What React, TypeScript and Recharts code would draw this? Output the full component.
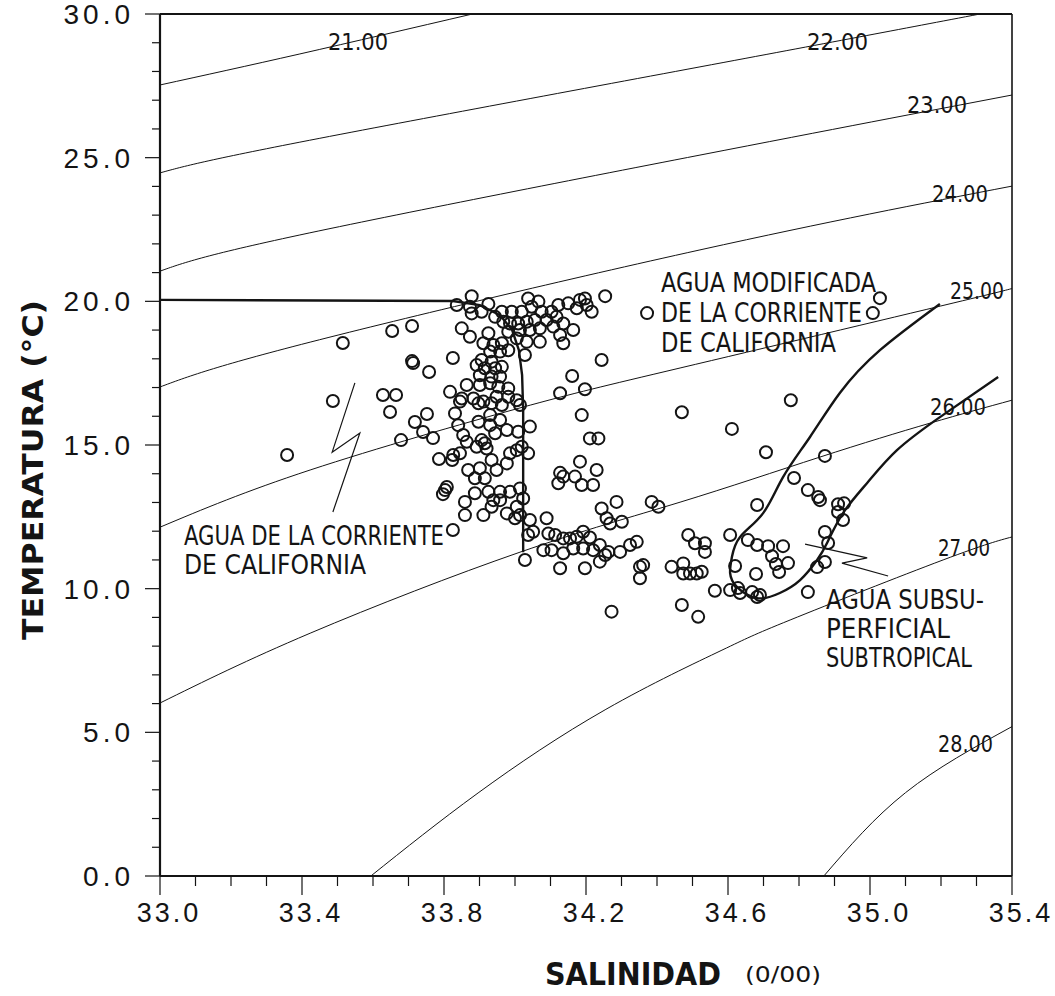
import React from "react";
import {
  ComposedChart,
  XAxis,
  YAxis,
  Scatter,
  Line,
  ReferenceLine,
  Customized,
} from "recharts";

// axis ticks
const SAL_TICKS = [
  33.0, 33.1, 33.2, 33.3, 33.4, 33.5, 33.6, 33.7, 33.8, 33.9, 34.0, 34.1, 34.2,
  34.3, 34.4, 34.5, 34.6, 34.7, 34.8, 34.9, 35.0, 35.1, 35.2, 35.3, 35.4,
];
const TEMP_TICKS = [
  0, 1, 2, 3, 4, 5, 6, 7, 8, 9, 10, 11, 12, 13, 14, 15, 16, 17, 18, 19, 20, 21,
  22, 23, 24, 25, 26, 27, 28, 29, 30,
];

// observations [salinity, temperature]
const OBS_LEFT = [
  [33.358, 14.65], [33.487, 16.53], [33.515, 18.55], [33.654, 18.97], [33.71, 19.14],
  [33.71, 17.92], [33.713, 17.85], [33.628, 16.74], [33.665, 16.74], [33.648, 16.15],
  [33.679, 15.17], [33.758, 17.54], [33.825, 18.03], [33.752, 16.08], [33.718, 15.8],
  [33.741, 15.45], [33.769, 15.24], [33.786, 14.51], [33.823, 14.48], [33.808, 13.54],
  [33.803, 13.43], [33.797, 13.29], [33.825, 12.04],
];

const OBS_TOP = [
  [33.878, 20.18], [33.836, 19.87], [33.873, 19.81], [33.925, 19.91], [33.878, 19.58],
  [33.906, 19.64], [33.944, 19.46], [33.963, 19.64], [33.991, 19.64], [34.019, 19.64],
  [34.037, 20.1], [34.066, 19.99], [34.047, 19.81], [34.075, 19.64], [34.103, 19.64],
  [34.122, 19.87], [34.15, 19.93], [34.183, 20.05], [34.197, 20.1], [34.174, 19.76],
  [34.216, 19.64], [34.202, 19.87], [34.254, 20.18], [33.967, 19.29], [33.986, 19.23],
  [34.009, 19.23], [34.033, 19.29], [34.056, 19.35], [34.089, 19.35], [34.117, 19.46],
  [34.136, 19.23], [33.981, 18.94], [34.014, 19.0], [34.042, 19.0], [34.07, 19.06],
  [34.108, 19.12], [34.127, 18.83], [34.164, 19.0], [34.136, 18.54], [34.07, 18.59],
  [34.033, 18.59], [34.005, 18.71], [33.85, 19.06], [33.873, 18.77], [33.925, 18.89],
  [34.372, 19.59],
];

const OBS_COLUMN = [
  [34.244, 17.96], [33.911, 18.54], [33.939, 18.48], [33.963, 18.54], [33.981, 18.3],
  [33.93, 18.25], [33.958, 18.25], [34.028, 18.13], [33.906, 17.96], [33.934, 17.9],
  [33.892, 17.78], [33.915, 17.67], [33.944, 17.67], [33.963, 17.72], [33.901, 17.43],
  [33.934, 17.38], [33.958, 17.38], [33.864, 17.09], [33.901, 17.09], [33.93, 17.15],
  [33.953, 17.03], [33.981, 16.97], [33.817, 16.85], [33.85, 16.62], [33.883, 16.62],
  [33.911, 16.51], [33.948, 16.68], [33.981, 16.68], [34.005, 16.56], [34.014, 16.39],
  [34.161, 17.4], [34.197, 16.94], [34.127, 16.8], [33.845, 16.51], [33.897, 16.45],
  [33.934, 16.45], [33.963, 16.39], [33.831, 16.1], [33.93, 16.04], [33.958, 15.87],
  [33.84, 15.69], [33.897, 15.81], [33.93, 15.69], [33.944, 15.41], [33.977, 15.52],
  [34.009, 15.46], [34.042, 15.64], [33.854, 15.35], [33.864, 15.11], [33.906, 15.17],
  [33.915, 15.06], [33.92, 14.88], [33.892, 14.94], [33.845, 14.71], [33.826, 14.65],
  [33.986, 14.71], [34.005, 14.82], [34.019, 14.94], [34.037, 14.71], [33.934, 14.48],
  [33.977, 14.36], [33.948, 14.13], [33.868, 14.13], [33.901, 14.19], [33.887, 13.84],
  [33.915, 13.84], [33.859, 13.02], [33.887, 13.32], [33.925, 13.37], [33.958, 13.37],
  [33.986, 13.37], [34.014, 13.49], [34.023, 13.14], [33.859, 12.56], [33.911, 12.56],
  [33.934, 12.85], [33.939, 13.08], [33.958, 13.08], [33.977, 12.62], [34.005, 12.85],
  [34.0, 12.45], [34.014, 12.56], [34.042, 12.39], [34.051, 11.98], [34.037, 11.87],
  [34.028, 11.0], [34.089, 12.45], [34.094, 11.92], [34.08, 11.34],
];

const OBS_MID = [
  [34.244, 12.79], [34.286, 13.02], [34.404, 12.85], [34.385, 13.02], [34.258, 12.45],
  [34.268, 12.27], [34.301, 12.33], [34.113, 11.87], [34.136, 11.75], [34.155, 11.75],
  [34.174, 11.81], [34.192, 11.98], [34.211, 11.78], [34.103, 11.34], [34.136, 11.23],
  [34.164, 11.4], [34.192, 11.4], [34.22, 11.34], [34.239, 11.52], [34.263, 11.28],
  [34.239, 10.94], [34.254, 11.17], [34.296, 11.28], [34.324, 11.52], [34.343, 11.63],
  [34.127, 10.71], [34.197, 10.71], [34.352, 10.76], [34.361, 10.82], [34.352, 10.36],
  [34.272, 9.2], [34.488, 11.87], [34.507, 11.58], [34.535, 11.58], [34.535, 11.28],
  [34.606, 11.87], [34.441, 10.76], [34.474, 10.88], [34.474, 10.53], [34.493, 10.53],
  [34.512, 10.53], [34.526, 10.59], [34.563, 9.93], [34.47, 9.43], [34.516, 9.02],
  [34.188, 16.04], [34.47, 16.14], [34.211, 15.23], [34.235, 15.23], [34.183, 14.42],
  [34.23, 14.13], [34.127, 14.03], [34.136, 13.9], [34.169, 13.9], [34.122, 13.67],
  [34.188, 13.61], [34.22, 13.61],
];

const OBS_SUBTROP = [
  [35.028, 20.11], [35.008, 19.59], [34.777, 16.56], [34.611, 15.56], [34.707, 14.75],
  [34.873, 14.62], [34.786, 13.85], [34.825, 13.43], [34.854, 13.19], [34.859, 13.08],
  [34.91, 12.94], [34.927, 12.97], [34.91, 12.67], [34.924, 12.39], [34.682, 12.91],
  [34.656, 11.69], [34.682, 11.52], [34.713, 11.48], [34.755, 11.48], [34.724, 11.13],
  [34.735, 10.86], [34.744, 10.58], [34.769, 10.89], [34.873, 11.97], [34.882, 11.59],
  [34.873, 10.93], [34.851, 10.75], [34.62, 10.79], [34.679, 10.51], [34.606, 9.95],
  [34.628, 10.02], [34.634, 9.85], [34.668, 9.88], [34.682, 9.71], [34.69, 9.78],
  [34.825, 9.88],
];

// sigma-t isolines [S, T]
const SIGMA_21 = [[33.0, 27.53], [33.394, 28.61], [33.88, 30.0]];
const SIGMA_22 = [[33.0, 24.47], [33.394, 25.54], [34.521, 28.16], [35.31, 30.0]];
const SIGMA_23 = [[33.0, 21.05], [33.394, 22.31], [34.521, 25.09], [35.4, 27.18]];
const SIGMA_24 = [[33.0, 17.02], [33.423, 18.58], [34.521, 21.79], [35.4, 24.01]];
const SIGMA_25 = [[33.0, 12.14], [33.423, 14.13], [34.014, 16.29], [34.465, 17.68], [35.234, 19.94], [35.4, 20.46]];
const SIGMA_26 = [[33.0, 6.02], [33.423, 8.45], [34.014, 11.27], [34.465, 13.01], [34.859, 14.58], [35.169, 15.76], [35.4, 16.56]];
const SIGMA_27 = [[33.594, 0.0], [33.896, 2.89], [34.256, 5.8], [34.583, 7.86], [34.775, 8.91], [35.206, 11.0], [35.4, 11.8]];
const SIGMA_28 = [[34.87, 0.0], [35.1, 2.9], [35.4, 5.2]];
const ISOLINES = [SIGMA_21, SIGMA_22, SIGMA_23, SIGMA_24, SIGMA_25, SIGMA_26, SIGMA_27, SIGMA_28];

// water mass boundaries
const CALIFORNIA_LIMIT = [
  [33.0, 20.05], [33.825, 20.01], [33.901, 19.87], [33.958, 19.52], [33.992, 19.0],
  [34.011, 18.3], [34.02, 17.43], [34.023, 16.22], [34.023, 11.27],
];
const SUBTROPICAL_LIMIT = [
  [35.197, 19.91], [35.028, 18.3], [34.915, 16.81], [34.831, 15.28], [34.755, 13.88],
  [34.699, 12.63], [34.634, 11.8], [34.611, 11.1], [34.606, 10.54], [34.625, 10.06],
  [34.682, 9.67], [34.746, 9.85], [34.803, 10.3], [34.851, 11.0], [34.879, 11.59],
  [34.924, 12.63], [34.992, 13.68], [35.076, 14.82], [35.197, 15.97], [35.361, 17.37],
];

// zig-zag pointers from the labels
const POINTER_CC = [[33.549, 17.16], [33.485, 14.75], [33.563, 15.42], [33.487, 12.67]];
const POINTER_SS = [[34.817, 11.55], [34.992, 11.07], [34.921, 10.89], [35.051, 10.44]];

const ISO_LABELS = ["21.00", "22.00", "23.00", "24.00", "25.00", "26.00", "27.00", "28.00"];

const TICK_FONT = "'Liberation Sans', Arial, sans-serif";
const NOTE_FONT = "'DejaVu Sans Condensed', 'DejaVu Sans', sans-serif";
const INK = "#141414";

const toRows = (pts: number[][]) => pts.map(([s, t]) => ({ s, t }));
const OBS_ROWS = toRows([...OBS_LEFT, ...OBS_TOP, ...OBS_COLUMN, ...OBS_MID, ...OBS_SUBTROP]);

const SalTick = ({ x, y, payload }: any) => {
  const v = payload.value;
  const major = Math.round((v - 33) * 10) % 4 === 0;
  return (
    <g>
      <line x1={x} y1={y} x2={x} y2={y + (major ? 19 : 10)} stroke={INK} strokeWidth={1.2} />
      {major && (
        <text x={x + 9} y={y + 46} textAnchor="middle" fontSize={27} letterSpacing={3} fontFamily={TICK_FONT} fill={INK}>
          {v.toFixed(1)}
        </text>
      )}
    </g>
  );
};

const TempTick = ({ x, y, payload }: any) => {
  const v = payload.value;
  const major = v % 5 === 0;
  return (
    <g>
      <line x1={x - (major ? 15 : 8)} y1={y} x2={x} y2={y} stroke={INK} strokeWidth={1.2} />
      {major && (
        <text x={x - 26} y={y + 10} textAnchor="end" fontSize={28} letterSpacing={4} fontFamily={TICK_FONT} fill={INK}>
          {v.toFixed(1)}
        </text>
      )}
    </g>
  );
};

// label placements in pixels (x start, baseline, width)
const ISO_LABEL_POS = [
  [328, 50, 60], [807, 50, 61], [907, 113, 60], [932, 202, 56],
  [950, 299, 54], [930, 415, 56], [938, 556, 52], [938, 752, 55],
];
const NOTES = [
  { text: "AGUA MODIFICADA", x: 661, y: 292, w: 215 },
  { text: "DE LA CORRIENTE", x: 661, y: 322, w: 201 },
  { text: "DE CALIFORNIA", x: 661, y: 352, w: 175 },
  { text: "AGUA DE LA CORRIENTE", x: 184, y: 545, w: 260 },
  { text: "DE CALIFORNIA", x: 184, y: 574, w: 182 },
  { text: "AGUA SUBSU-", x: 826, y: 609, w: 158 },
  { text: "PERFICIAL", x: 826, y: 638, w: 124 },
  { text: "SUBTROPICAL", x: 826, y: 667, w: 146 },
];

const Annotations = () => (
  <g>
    {ISO_LABELS.map((lab, i) => {
      const [x, y, w] = ISO_LABEL_POS[i];
      return (
        <text key={lab} x={x} y={y} fontSize={23} fontFamily={NOTE_FONT} fill={INK}
          textLength={w} lengthAdjust="spacingAndGlyphs"
          stroke="#fff" strokeWidth={7} paintOrder="stroke">
          {lab}
        </text>
      );
    })}
    {NOTES.map((n) => (
      <text key={n.text + n.y} x={n.x} y={n.y} fontSize={27} fontFamily={NOTE_FONT} fill={INK}
        textLength={n.w} lengthAdjust="spacingAndGlyphs">
        {n.text}
      </text>
    ))}
    <text x={33} y={470} transform="rotate(-90 33 470)" textAnchor="middle" dominantBaseline="central"
      fontSize={28} fontWeight="bold" fontFamily={NOTE_FONT} fill={INK}
      textLength={340} lengthAdjust="spacingAndGlyphs">
      TEMPERATURA (°C)
    </text>
    <text x={545} y={985} fontSize={32} fontWeight="bold" fontFamily={NOTE_FONT} fill={INK}
      textLength={176} lengthAdjust="spacingAndGlyphs">
      SALINIDAD
    </text>
    <text x={745} y={982} fontSize={21} fontFamily={NOTE_FONT} fill={INK}
      textLength={76} lengthAdjust="spacingAndGlyphs">
      (0/00)
    </text>
  </g>
);

export default function App() {
  return (
    <div style={{ position: "absolute", left: 0, top: 0, background: "#fff" }}>
      <ComposedChart width={1055} height={996} margin={{ top: 14, right: 43, bottom: 80, left: 60 }}>
        <XAxis
          type="number"
          dataKey="s"
          domain={[33, 35.4]}
          ticks={SAL_TICKS}
          interval={0}
          allowDataOverflow
          height={40}
          tickSize={0}
          tickMargin={0}
          tickLine={false}
          axisLine={{ stroke: INK, strokeWidth: 2.2 }}
          tick={<SalTick />}
        />
        <YAxis
          type="number"
          dataKey="t"
          domain={[0, 30]}
          ticks={TEMP_TICKS}
          interval={0}
          allowDataOverflow
          width={100}
          tickSize={0}
          tickMargin={0}
          tickLine={false}
          axisLine={{ stroke: INK, strokeWidth: 2.2 }}
          tick={<TempTick />}
        />
        <ReferenceLine y={30} stroke={INK} strokeWidth={1.8} />
        <ReferenceLine x={35.4} stroke={INK} strokeWidth={1.6} />

        {ISOLINES.map((pts, i) => (
          <Line
            key={"iso" + i}
            data={toRows(pts)}
            dataKey="t"
            type="natural"
            stroke={INK}
            strokeWidth={1}
            dot={false}
            activeDot={false}
            isAnimationActive={false}
          />
        ))}

        <Line data={toRows(CALIFORNIA_LIMIT)} dataKey="t" type="linear" stroke={INK} strokeWidth={2.4}
          dot={false} activeDot={false} isAnimationActive={false} />
        <Line data={toRows(SUBTROPICAL_LIMIT)} dataKey="t" type="natural" stroke={INK} strokeWidth={2.4}
          dot={false} activeDot={false} isAnimationActive={false} />
        <Line data={toRows(POINTER_CC)} dataKey="t" type="linear" stroke={INK} strokeWidth={1.2}
          dot={false} activeDot={false} isAnimationActive={false} />
        <Line data={toRows(POINTER_SS)} dataKey="t" type="linear" stroke={INK} strokeWidth={1.2}
          dot={false} activeDot={false} isAnimationActive={false} />

        <Scatter
          data={OBS_ROWS}
          isAnimationActive={false}
          shape={(p: any) => (
            <circle cx={p.cx} cy={p.cy} r={6} fill="none" stroke={INK} strokeWidth={2} />
          )}
        />
        <Customized component={Annotations} />
      </ComposedChart>
    </div>
  );
}
